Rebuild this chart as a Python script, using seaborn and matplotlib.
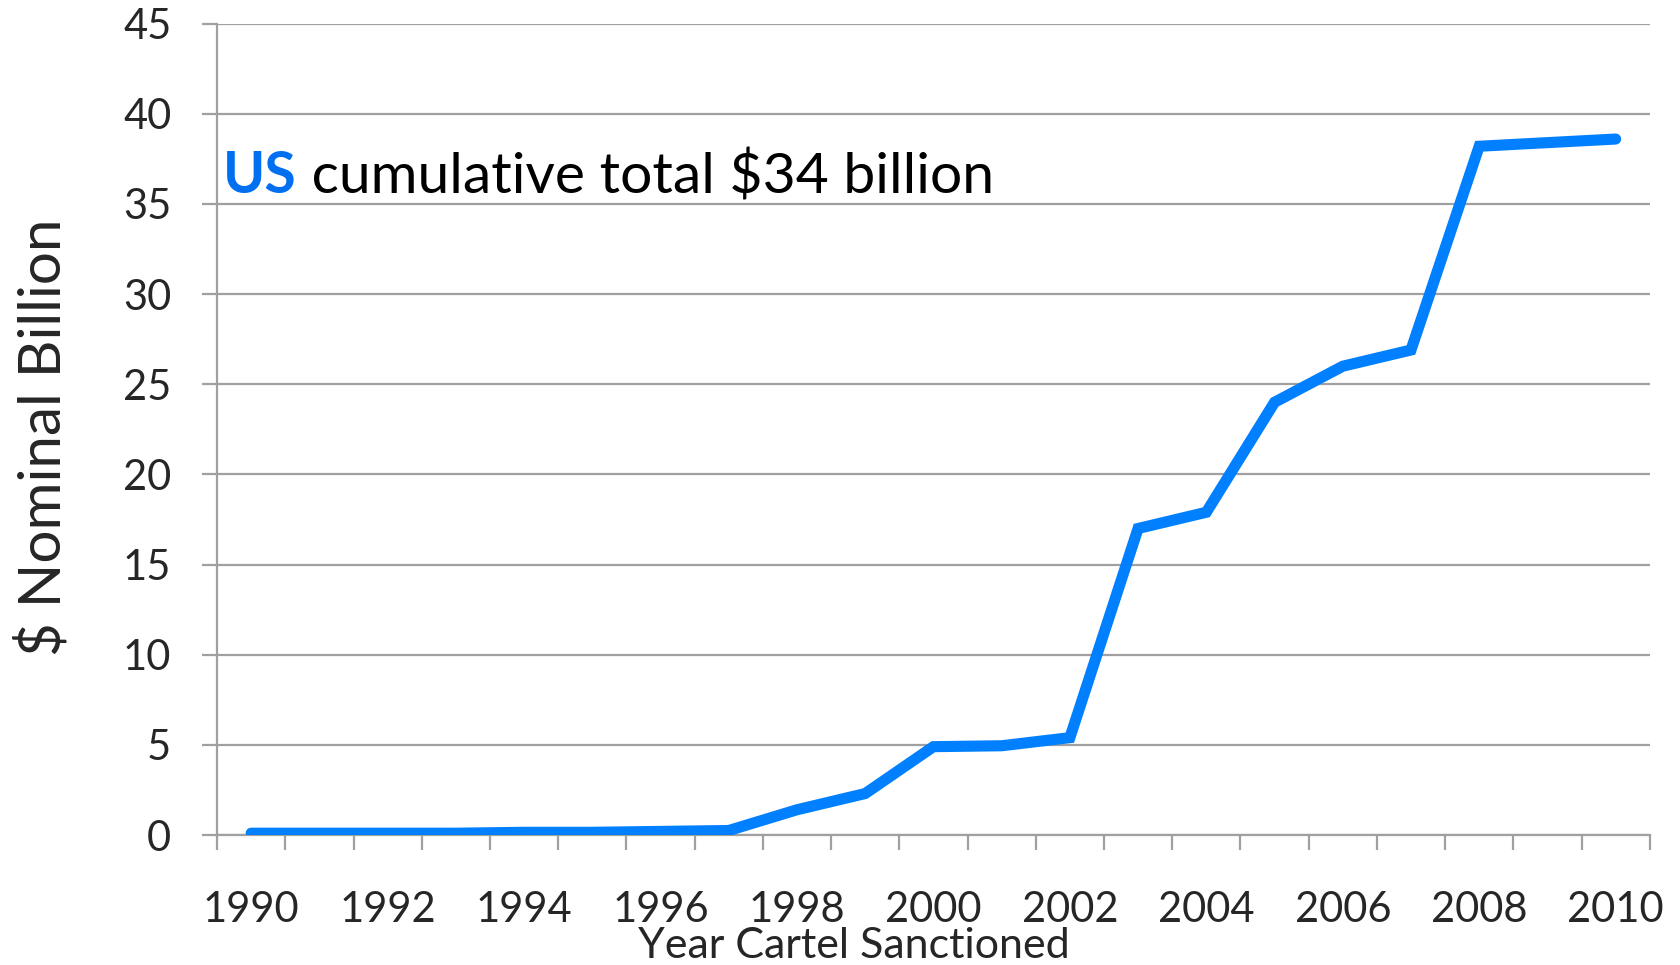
import numpy as np
import pandas as pd
import matplotlib
matplotlib.use('Agg')
import matplotlib.pyplot as plt
import seaborn as sns
from matplotlib.ticker import FixedLocator

# 数据：美国卡特尔罚款累计（十亿美元，名义值）
years = list(range(1990, 2011))
cumulative = [0.1, 0.1, 0.1, 0.1, 0.15, 0.15, 0.2, 0.25, 1.4, 2.3, 4.9,
              4.95, 5.4, 17.0, 17.9, 24.0, 26.0, 26.9, 38.2, 38.4, 38.6]
label_years = list(range(1990, 2011, 2))
y_ticks = list(range(0, 50, 5))

df = pd.DataFrame({'year': years, 'total': cumulative})

sns.set_style('white')
plt.rcParams['font.family'] = ['Lato', 'DejaVu Sans']

fig = plt.figure(figsize=(16.8, 9.65), dpi=100)
ax = fig.add_axes([0.1292, 0.1347, 0.982 - 0.1292, 0.9755 - 0.1347])

sns.lineplot(data=df, x='year', y='total', color='#0080FF', linewidth=8,
             solid_capstyle='round', solid_joinstyle='miter', ax=ax, zorder=3)

grid_c = '#A0A0A0'
ax.set_xlim(1989.5, 2010.5)
ax.set_ylim(0, 45)
ax.set_yticks(y_ticks)
ax.yaxis.grid(True, color=grid_c, linewidth=1.6)
ax.xaxis.grid(False)

# 年份标签在类别中心，刻度线在类别之间
ax.xaxis.set_major_locator(FixedLocator(label_years))
ax.set_xticklabels([str(y) for y in label_years])
ax.xaxis.set_minor_locator(FixedLocator(np.arange(1989.5, 2011, 1)))
ax.tick_params(axis='x', which='major', length=0, pad=40, labelsize=30)
ax.tick_params(axis='x', which='minor', length=11, width=1.6, color=grid_c, direction='out', bottom=True)
ax.tick_params(axis='y', which='major', length=11, width=1.6, color=grid_c, direction='out', left=True, pad=22, labelsize=30)

for s in ['top', 'right']:
    ax.spines[s].set_visible(False)
for s in ['left', 'bottom']:
    ax.spines[s].set_color(grid_c)
    ax.spines[s].set_linewidth(1.6)

ax.set_xlabel('Year Cartel Sanctioned', fontsize=31)
ax.xaxis.set_label_coords(0.4445, -0.137)
ax.xaxis.label.set_va('center')
ax.set_ylabel('$ Nominal Billion', fontsize=42)
ax.yaxis.set_label_coords(-0.121, 0.49)
ax.yaxis.label.set_va('center')

t1 = ax.text(0.004, 0.791, 'US', transform=ax.transAxes, fontsize=41,
             fontweight='bold', color='#0070F0', va='baseline', ha='left')
ax.annotate(' cumulative total $34 billion', xy=(1, 0), xycoords=t1,
            fontsize=41, color='black', va='bottom', ha='left')

fig.savefig('out.png', dpi=100)
